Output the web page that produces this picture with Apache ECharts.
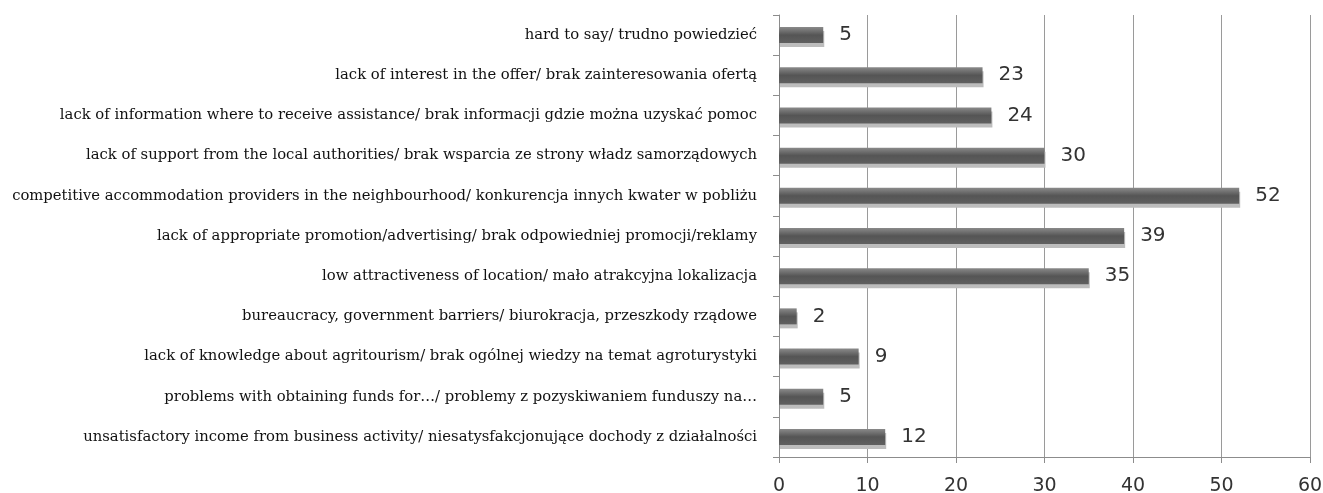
<!DOCTYPE html>
<html>
<head>
<meta charset="utf-8">
<script src="https://cdn.jsdelivr.net/npm/echarts@6/dist/echarts.min.js"></script>
<style>
  html, body { margin: 0; padding: 0; background: #fff; }
  #main { width: 1323px; height: 493px; }
</style>
</head>
<body>
<div id="main"></div>
<script>
// bottom to top, as the category axis draws them
var categories = [
  'unsatisfactory income from business activity/ niesatysfakcjonujące dochody z działalności',
  'problems with obtaining funds for…/ problemy z pozyskiwaniem funduszy na…',
  'lack of knowledge about agritourism/ brak ogólnej wiedzy na temat agroturystyki',
  'bureaucracy, government barriers/ biurokracja, przeszkody rządowe',
  'low attractiveness of location/ mało atrakcyjna lokalizacja',
  'lack of appropriate promotion/advertising/ brak odpowiedniej promocji/reklamy',
  'competitive accommodation providers in the neighbourhood/ konkurencja innych kwater w pobliżu',
  'lack of support from the local authorities/ brak wsparcia ze strony władz samorządowych',
  'lack of information where to receive assistance/ brak informacji gdzie można uzyskać pomoc',
  'lack of interest in the offer/ brak zainteresowania ofertą',
  'hard to say/ trudno powiedzieć'
];
var values = [12, 5, 9, 2, 35, 39, 52, 30, 24, 23, 5];

var chartDom = document.getElementById('main');
var myChart = echarts.init(chartDom);
var option;

option = {
  animation: false,
  grid: { left: 779, right: 13, top: 15, bottom: 36, outerBoundsMode: 'none' },
  xAxis: {
    type: 'value',
    min: 0,
    max: 60,
    interval: 10,
    axisLine: { show: true, lineStyle: { color: '#8c8c8c' } },
    axisTick: { show: true, length: 6, lineStyle: { color: '#8c8c8c' } },
    axisLabel: { margin: 20, fontFamily: 'DejaVu Sans', fontSize: 19, color: '#333' },
    splitLine: { show: true, lineStyle: { color: '#9a9a9a' } }
  },
  yAxis: {
    type: 'category',
    data: categories,
    axisLine: { show: true, lineStyle: { color: '#8c8c8c' } },
    axisTick: { show: true, length: 6, lineStyle: { color: '#8c8c8c' } },
    axisLabel: { margin: 22, fontFamily: 'DejaVu Serif', fontSize: 14.8, color: '#111' }
  },
  series: [{
    type: 'bar',
    data: values,
    barWidth: 16,
    itemStyle: {
      color: new echarts.graphic.LinearGradient(0, 0, 0, 1, [
        { offset: 0, color: '#8a8a8a' },
        { offset: 0.5, color: '#555' },
        { offset: 1, color: '#606060' }
      ]),
      shadowColor: '#bdbdbd',
      shadowOffsetX: 1,
      shadowOffsetY: 4,
      shadowBlur: 0
    },
    label: {
      show: true,
      position: 'right',
      distance: 16,
      fontFamily: 'DejaVu Sans',
      fontSize: 20,
      color: '#333'
    }
  }]
};

option && myChart.setOption(option);
</script>
</body>
</html>
